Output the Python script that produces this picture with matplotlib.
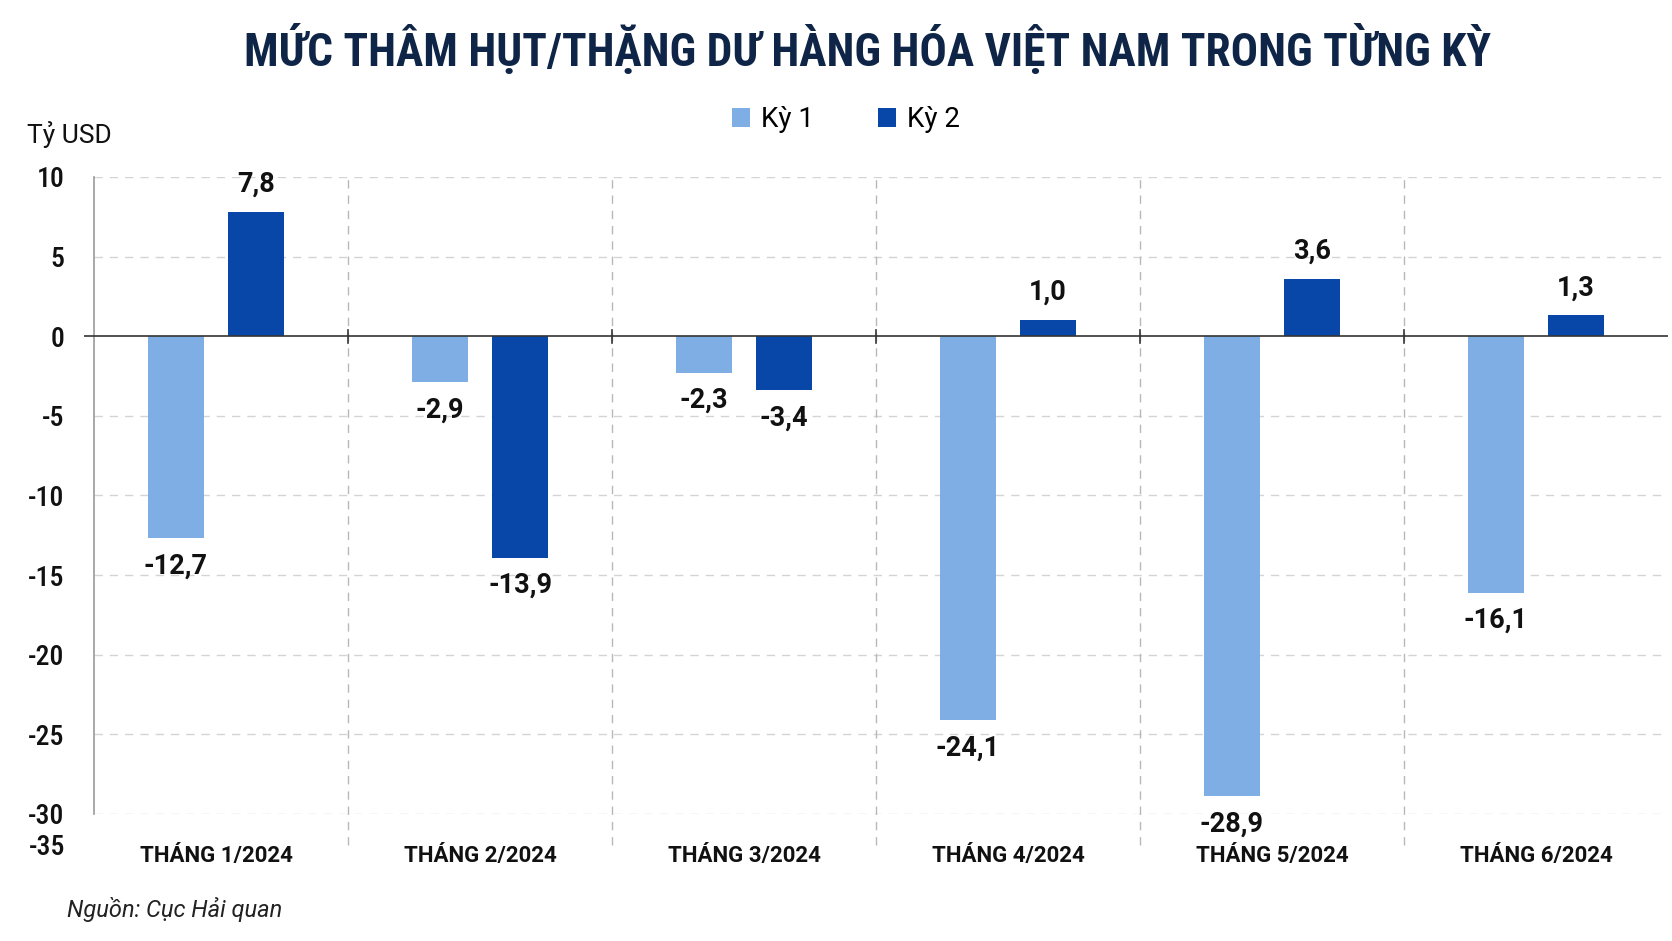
import matplotlib
matplotlib.use('Agg')
import matplotlib.pyplot as plt
import numpy as np

months = ['THÁNG 1/2024', 'THÁNG 2/2024', 'THÁNG 3/2024',
          'THÁNG 4/2024', 'THÁNG 5/2024', 'THÁNG 6/2024']
ky1 = [-12.7, -2.9, -2.3, -24.1, -28.9, -16.1]
ky2 = [7.8, -13.9, -3.4, 1.0, 3.6, 1.3]
yticks = [10, 5, 0, -5, -10, -15, -20, -25, -30]

plt.rcParams['font.family'] = ['Roboto Condensed', 'Roboto', 'DejaVu Sans']
plt.rcParams['font.weight'] = 'medium'
wide = ['Roboto', 'DejaVu Sans']

c1 = '#7FAEE4'
c2 = '#0846A8'
navy = '#0F2547'
ink = '#111111'

fig = plt.figure(figsize=(16.72, 9.41), dpi=100)
ax = fig.add_axes([0.0502, 0.135, 0.9474, 0.677])
sp = 0.0063  # y spine sits a little inside the axes box

x = np.arange(len(months))
off = 0.152
w = 0.212
b1 = ax.bar(x - off, ky1, w, color=c1, label='Kỳ 1', zorder=3)
b2 = ax.bar(x + off, ky2, w, color=c2, label='Kỳ 2', zorder=3)

for bars, vals in ((b1, ky1), (b2, ky2)):
    for r, v in zip(bars, vals):
        lab = f'{v:.1f}'.replace('.', ',')
        ax.annotate(lab, (r.get_x() + r.get_width() / 2, v),
                    xytext=(0, 20 if v > 0 else -20), textcoords='offset points',
                    ha='center', va='center', fontsize=19.5, fontweight='bold',
                    family=wide, color=ink, zorder=4)

ax.set_xlim(-0.5, 5.5)
ax.set_ylim(-30, 10)
ax.set_yticks(yticks)
ax.set_yticklabels([str(t) for t in yticks])
ax.tick_params(axis='y', length=0, pad=21, labelsize=20, labelcolor=ink)
ax.set_xticks(x)
ax.set_xticklabels(months, fontsize=16, fontweight='bold', color=ink, family=wide)
ax.tick_params(axis='x', length=0, pad=22)

for t in yticks:
    if t != 0:
        ax.axhline(t, xmin=sp, color='#d4d4d4', lw=1, ls=(0, (6, 5)), zorder=1)
ax.axhline(0, color='#333333', lw=1.2, zorder=4)

for b in np.arange(0.5, 5.5, 1):
    ax.axvline(b, ymin=-0.049, ymax=1, color='#b8b8b8', lw=1,
               ls=(0, (6, 5)), clip_on=False, zorder=1)
    ax.plot([b, b], [-0.4, 0.4], color='#333333', lw=1.2, zorder=4)

for s in ['top', 'right', 'bottom']:
    ax.spines[s].set_visible(False)
ax.spines['left'].set_position(('axes', sp))
ax.spines['left'].set_color('#999999')
ax.spines['left'].set_linewidth(1.2)

# the stray -35 label under the axis
ax.text(-0.012, -32.1, '-35', transform=ax.get_yaxis_transform(),
        ha='right', va='center', fontsize=20, color=ink)

fig.text(0.016, 0.857, 'Tỷ USD', fontsize=19, color=ink, va='center',
         family=wide, fontweight='normal')
fig.text(0.519, 0.947, 'MỨC THÂM HỤT/THẶNG DƯ HÀNG HÓA VIỆT NAM TRONG TỪNG KỲ',
         ha='center', va='center', fontsize=32.8, fontweight='bold', color=navy)
fig.text(0.04, 0.033, 'Nguồn: Cục Hải quan', fontsize=17, style='italic',
         color='#222222', va='center', family=wide, fontweight='normal')

fig.legend(loc='center', bbox_to_anchor=(0.506, 0.873), ncol=2, frameon=False,
           prop={'family': wide, 'size': 20, 'weight': 'normal'},
           handlelength=0.65, handleheight=0.65, columnspacing=2.3,
           handletextpad=0.4)

fig.savefig('out.png', dpi=100, facecolor='white')
